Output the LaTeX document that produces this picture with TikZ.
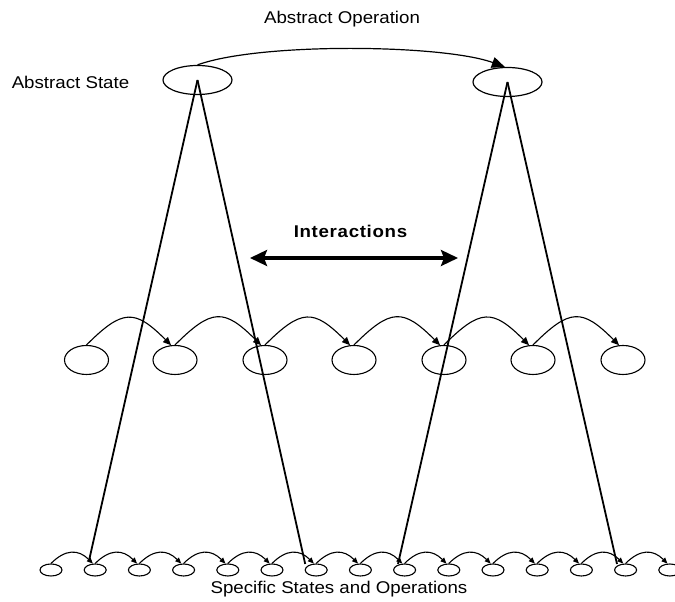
\documentclass[tikz,border=0pt]{standalone}
\usepackage{fontspec}
\setmainfont[FakeStretch=1.1]{Liberation Sans}
\newfontfamily\ilab[FakeStretch=1.1,LetterSpace=4]{Liberation Sans}
\usetikzlibrary{arrows.meta,shapes.geometric}
\begin{document}
\begin{tikzpicture}[x=1pt,y=1pt,
  astate/.style={draw,ellipse,inner sep=0pt,minimum width=69pt,minimum height=29pt,line width=1.2pt},
  mstate/.style={draw,ellipse,inner sep=0pt,minimum width=44pt,minimum height=29pt,line width=1.1pt},
  bstate/.style={draw,ellipse,inner sep=0pt,minimum width=22pt,minimum height=12pt,line width=1.1pt},
  vline/.style={line width=1.8pt},
  toparc/.style={line width=1.2pt,-{Triangle[length=13pt,width=11pt]}},
  marc/.style={line width=1.1pt,-{Triangle[length=8pt,width=7pt]}},
  barc/.style={line width=1.1pt,-{Triangle[length=6pt,width=5pt]}},
  lab/.style={font=\fontsize{17}{20}\selectfont,inner sep=0pt,anchor=base}]
\useasboundingbox (0,0) rectangle (675,602);
% abstract states
\node[astate] (a1) at (197.5,522) {};
\node[astate] (a2) at (507.5,520) {};
% middle row
\foreach \i/\x in {1/86.5,2/175,3/265,4/354,5/444,6/533,7/623}
  \node[mstate] (m\i) at (\x,242) {};
% bottom row
\foreach \i in {1,...,15}
  \node[bstate] (b\i) at ({51+44.2*(\i-1)},32) {};
% labels
\node[lab] (lop) at (342,578.5) {Abstract Operation};
\node[lab] (lst) at (70.5,513) {Abstract State};
\node[lab,font=\fontsize{17}{20}\ilab\bfseries] (lint) at (350.5,364) {Interactions};
\node[lab] (lspec) at (339,8) {Specific States and Operations};
% abstract operation
\draw[toparc] (a1.north) to[out=20,in=160,looseness=0.55] (a2.100);
% middle operations
\foreach \i [remember=\i as \p (initially 1)] in {2,...,7}
  \draw[marc] (m\p.north) to[out=45,in=135,looseness=1.55] (m\i.105);
% bottom operations
\foreach \i [remember=\i as \p (initially 1)] in {2,...,15}
  \draw[barc] (b\p.north) to[out=45,in=135,looseness=1.25] (b\i.110);
% refinement lines
\draw[vline] (a1.center) -- ([xshift=-6.5pt,yshift=8pt]b2.center);
\draw[vline] (a1.center) -- ([xshift=-11pt,yshift=6pt]b7.center);
\draw[vline] (a2.center) -- ([xshift=-6.6pt,yshift=6pt]b9.center);
\draw[vline] (a2.center) -- ([xshift=-8.6pt,yshift=6pt]b14.center);
% interactions arrow
\coordinate (il) at (250,344);
\coordinate (ir) at (458,344);
\draw[line width=3.2pt,{Stealth[length=17pt,width=16pt,inset=3pt]}-{Stealth[length=17pt,width=16pt,inset=3pt]}] (il) -- (ir);
\end{tikzpicture}
\end{document}
